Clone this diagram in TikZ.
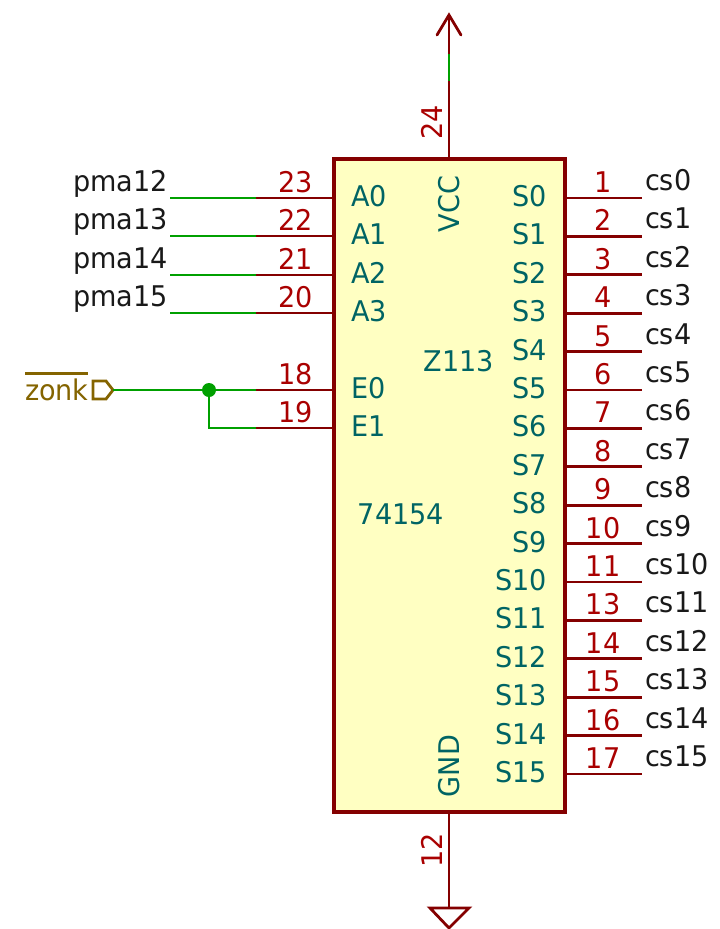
\documentclass[tikz,border=0pt]{standalone}
\usepackage{fontspec}
\usepackage{tikz}
\newfontfamily\kifont[FakeStretch=0.95]{DejaVu Sans}
\definecolor{pinred}{HTML}{840000}
\definecolor{numred}{HTML}{A90000}
\definecolor{nameteal}{HTML}{006464}
\definecolor{wiregreen}{HTML}{00A000}
\definecolor{chipfill}{HTML}{FFFFC2}
\definecolor{hierbrown}{HTML}{846400}
\tikzset{
  every node/.style={inner sep=0pt,outer sep=0pt,font=\kifont\fontsize{28.5}{30}\selectfont},
  chip/.style={draw=pinred,fill=chipfill,line width=4.5pt,minimum width=231pt,minimum height=653pt},
  pinline/.style={draw=pinred,line width=2.8pt},
  wire/.style={draw=wiregreen,line width=2.8pt},
  pinnum/.style={text=numred,anchor=base},
  pinname/.style={text=nameteal},
  netname/.style={text=black!90},
  hier/.style={draw=hierbrown,line width=2.8pt,line join=miter},
}
\begin{document}
\begin{tikzpicture}[x=1pt,y=-1pt]
  \useasboundingbox (0,0) rectangle (720,929);%
  % chip
  \node[chip] (u) at (449.5,485.5) {};%
  \node[pinname] (ref) at (459,361) {Z113};%
  \node[pinname] (val) at (401,514) {74154};%

  % address and enable pins
  \foreach \n/\name/\y in {23/A0/198,22/A1/236,21/A2/275,20/A3/313,18/E0/390,19/E1/428}{
    \coordinate (pin\n) at (334,\y);%
    \coordinate (end\n) at (256,\y);%
    \draw[pinline] (pin\n) -- (end\n);%
    \node[pinnum] (num\n) at (296,\y-5.5) {\n};%
    \node[pinname,anchor=base west] (name\n) at (351,\y+8.5) {\name};%
  }
  % address nets
  \foreach \n/\net/\y in {23/pma12/198,22/pma13/236,21/pma14/275,20/pma15/313}{
    \coordinate (net\n) at (170,\y);%
    \draw[wire] (net\n) -- (end\n);%
    \node[netname,anchor=base east] (label\n) at (168,\y-6.5) {\net};%
  }

  % outputs
  \foreach \n/\k/\y in {1/0/198,2/1/236.4,3/2/274.8,4/3/313.2,5/4/351.6,6/5/390,7/6/428.4,8/7/466.8,
    9/8/505.2,10/9/543.6,11/10/582,13/11/620.4,14/12/658.8,15/13/697.2,16/14/735.6,17/15/774}{
    \coordinate (out\n) at (565,\y);%
    \coordinate (cs\n) at (642,\y);%
    \draw[pinline] (out\n) -- (cs\n);%
    \node[pinnum] (num\n) at (603,\y-5.5) {\n};%
    \node[pinname,anchor=base east] (nameS\k) at (547,\y+8.5) {S\k};%
    \node[netname,anchor=base west] (cslabel\k) at (645,\y-7.5) {cs\k};%
  }

  % enable net
  \coordinate (zonkend) at (113,390);%
  \coordinate (dot) at (209,390);%
  \coordinate (corner) at (209,428);%
  \draw[hier] (zonkend) -- (106,381) -- (93,381) -- (93,399) -- (106,399) -- cycle;%
  \node[text=hierbrown,anchor=base west] (zonk) at (25,400) {zonk};%
  \coordinate (barl) at (25,373.5);%
  \coordinate (barr) at (88,373.5);%
  \draw[draw=hierbrown,line width=2.8pt] (barl) -- (barr);%
  \draw[wire] (zonkend) -- (end18);%
  \draw[wire] (dot) -- (corner) -- (end19);%
  \fill[wiregreen] (dot) circle (7pt);%

  % power
  \coordinate (vcc) at (449,159);%
  \coordinate (vcctop) at (449,15);%
  \coordinate (vcca) at (449,81);%
  \coordinate (vccb) at (449,54);%
  \draw[pinline] (vcc) -- (vcca);%
  \draw[wire] (vcca) -- (vccb);%
  \draw[pinline] (vccb) -- (vcctop);%
  \draw[pinline,line cap=round,line join=miter] (437,35) -- (vcctop) -- (461,35);%
  \node[text=numred,rotate=90] (num24) at (432,122) {24};%
  \node[pinname,rotate=90] (namevcc) at (449,204) {VCC};%

  \coordinate (gnd) at (449,812);%
  \coordinate (gndtip) at (449,908);%
  \draw[pinline] (gnd) -- (gndtip);%
  \draw[pinline,line join=miter] (430,908) -- (469,908) -- (449,928) -- cycle;%
  \node[text=numred,rotate=90] (num12) at (432,850) {12};%
  \node[pinname,rotate=90] (namegnd) at (449,766) {GND};%
\end{tikzpicture}
\end{document}
